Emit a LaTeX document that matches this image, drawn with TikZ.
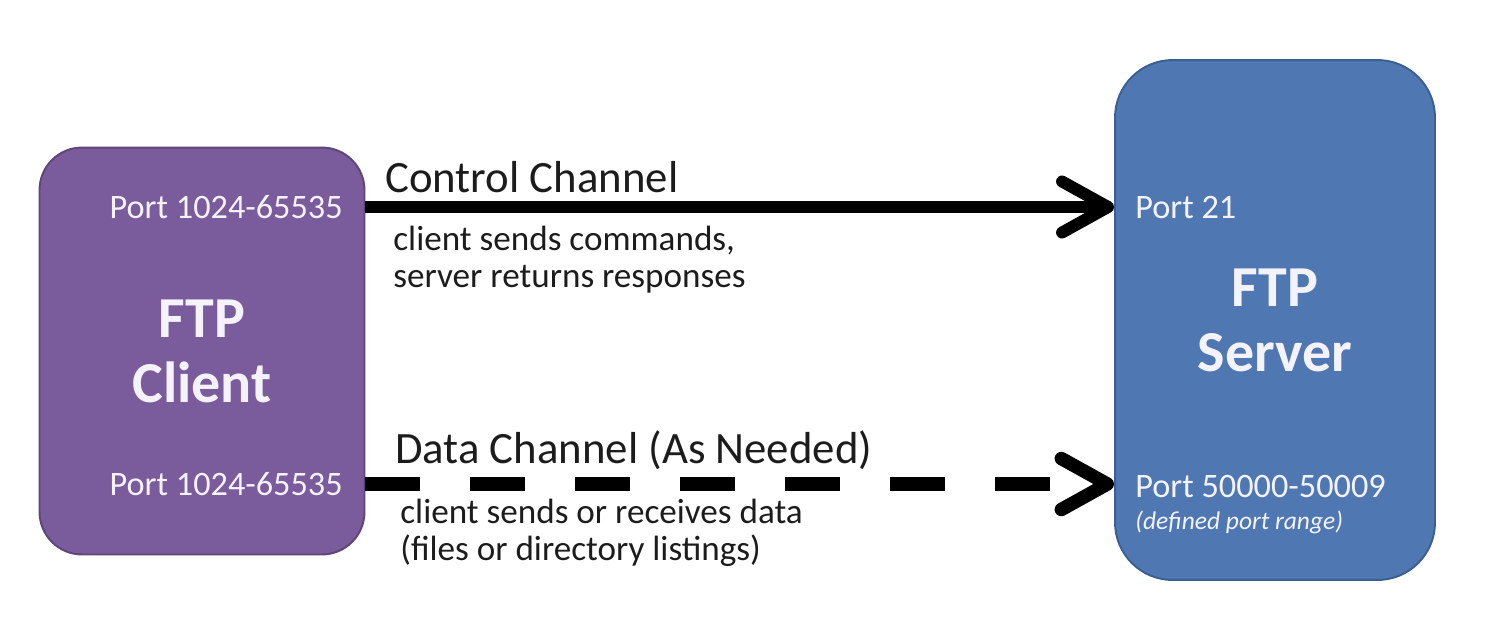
\documentclass[tikz,border=0pt]{standalone}
\usepackage{fontspec}
\setmainfont{Carlito}
\usetikzlibrary{arrows.meta,positioning}
\definecolor{clientpurple}{HTML}{7A5B9B}
\definecolor{clientedge}{HTML}{5E4679}
\definecolor{serverblue}{HTML}{4F78B3}
\definecolor{serveredge}{HTML}{3C5F92}
\definecolor{ink}{HTML}{1C1C1C}
\definecolor{boxtext}{HTML}{F4F2FA}

\begin{document}
\begin{tikzpicture}[x=0.02cm,y=-0.02cm,
  hostbox/.style={draw,line width=1.1pt,inner sep=0pt,text=boxtext,align=center,
    font=\bfseries\fontsize{33}{37}\selectfont},
  porttext/.style={text=boxtext,inner sep=0pt,font=\fontsize{19.5}{22}\selectfont},
  chanlabel/.style={text=ink,inner sep=0pt,anchor=base west,font=\fontsize{25.5}{30}\selectfont},
  chandesc/.style={text=ink,inner sep=0pt,anchor=base west,align=left,font=\fontsize{20}{21}\selectfont},
  chanarrow/.style={-{Straight Barb[length=0.92cm,width=1.02cm,round]},line cap=butt}]
  \useasboundingbox (0,0) rectangle (1490,630);
  % the two hosts
  \node[hostbox,fill=clientpurple,draw=clientedge,minimum width=6.5cm,minimum height=8.14cm,
    rounded corners=0.85cm] (client) at (202,351) {FTP\\Client};
  \node[hostbox,fill=serverblue,draw=serveredge,minimum width=6.4cm,minimum height=10.4cm,
    rounded corners=1.15cm] (server) at (1275,320) {FTP\\Server};
  % ports
  \node[porttext,anchor=base east] (cport1) at (343,218) {Port 1024-65535};
  \node[porttext,anchor=base east] (cport2) at (343,495) {Port 1024-65535};
  \node[porttext,anchor=base west] (sport1) at (1135,218) {Port 21};
  \node[porttext,anchor=base west] (sport2) at (1135,497) {Port 50000-50009};
  \node[text=boxtext,inner sep=0pt,anchor=base west,font=\itshape\fontsize{14.5}{16}\selectfont]
    (srange) at (1135,529) {(defined port range)};
  % control channel
  \draw[chanarrow,line width=0.24cm] (client.east |- 0,207) coordinate (ctrlA)
    -- (server.west |- ctrlA);
  \node[chanlabel] (ctrl) at (385,192) {Control Channel};
  \node[chandesc] (ctrldesc) at (393,287) {client sends commands,\\server returns responses};
  % data channel
  \draw[chanarrow,line width=0.27cm,dash pattern=on 1.1cm off 1.0cm] (client.east |- 0,484)
    coordinate (dataA) -- (server.west |- dataA);
  \node[chanlabel] (data) at (395,463) {Data Channel (As Needed)};
  \node[chandesc] (datadesc) at (400,560) {client sends or receives data\\(files or directory listings)};
\end{tikzpicture}
\end{document}
